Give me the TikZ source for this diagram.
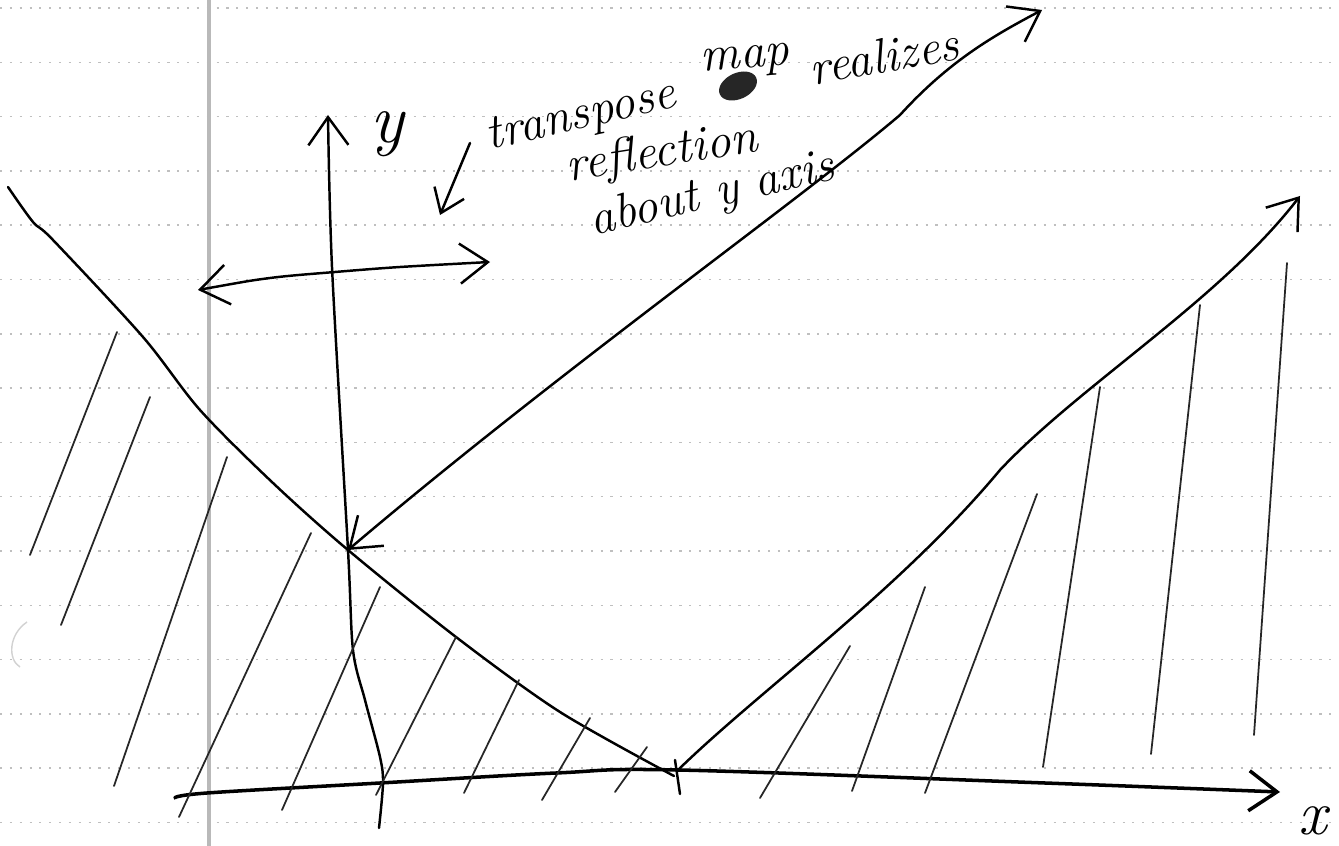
\documentclass[tikz,border=0pt]{standalone}
\usepackage{tikz}
\usetikzlibrary{arrows.meta, calc}

\begin{document}
\begin{tikzpicture}[x=0.01cm, y=-0.01cm,
  ruled/.style={gray!50, line width=0.45pt, dash pattern=on 0.6pt off 2.2pt},
  margin/.style={gray!55, line width=1pt},
  pen/.style={black, line width=0.7pt, line cap=round, line join=round},
  axisline/.style={pen, line width=1pt},
  hatch/.style={pen, line width=0.5pt, black!85},
  tip/.style={-{Straight Barb[length=2.8mm, width=4mm]}},
  bothtips/.style={{Straight Barb[length=2.8mm, width=4mm]}-{Straight Barb[length=2.8mm, width=4mm]}},
  hand/.style={font=\fontsize{14}{16}\selectfont\itshape, inner sep=0pt, anchor=base}]

\useasboundingbox (0,0) rectangle (1339,846);
\fill[white] (0,0) rectangle (1339,846);

% --- notebook paper ---
\foreach \k in {0,...,15}
  \draw[ruled] (0,{8+54.3*\k}) -- (1339,{8+54.3*\k});
\draw[margin] (209,0) -- (209,846);
\draw[gray!35, line width=0.4pt] (27,622) .. controls (8,635) and (8,660) .. (20,667);

% --- key points ---
\coordinate (cross) at (348,550);
\coordinate (vertex) at (678,770);
\coordinate (mapend) at (1042,10);
\coordinate (vend) at (1300,196);

% --- axes ---
\draw[axisline, tip] plot[smooth, tension=0.6] coordinates
  {(175,798) (207,793) (380,783) (556,773) (vertex) (1045,783) (1280,792)};
\draw[pen, tip] plot[smooth, tension=0.5] coordinates
  {(379,828) (383,783) (380,757) (365,700) (353,650) (cross) (332,267) (328,115)};
\node[font=\fontsize{20}{22}\selectfont\itshape, anchor=base, inner sep=0pt] (ylabel) at (387,143) {y};
\node[font=\fontsize{18}{20}\selectfont\itshape, anchor=base, inner sep=0pt] (xlabel) at (1313,834) {x};

% --- the two branches of the V ---
\draw[pen] plot[smooth, tension=0.5] coordinates
  {(8,187) (33,222) (53,240) (143,337) (200,410) (273,483) (cross)
   (456,637) (560,712) (674,776)};
\draw[pen, tip] (vertex) .. controls (760,690) and (900,590) .. (1000,470)
  .. controls (1080,385) and (1220,300) .. (vend);
\draw[pen] (675,760) -- (680,794);

% --- reflection arrows ---
\draw[pen, bothtips] plot[smooth, tension=0.5] coordinates
  {(198,290) (270,278) (335,272) (400,267) (490,262)};
\draw[pen, bothtips] (cross) .. controls (560,370) and (800,200) .. (900,115)
  .. controls (950,60) and (995,35) .. (mapend);
\draw[pen, -{Straight Barb[length=2.2mm, width=3.2mm]}] (470,143) -- (440,215);

% --- labels ---
\node[hand, rotate=13] (transpose) at (584,128) {transpose};
\node[hand, rotate=5] (map) at (746,68) {map};
\fill[black!85, rotate around={25:(738,86)}] (738,86) ellipse [x radius=20, y radius=13];
\node[hand, rotate=10] (realizes) at (887,72) {realizes};
\node[hand, rotate=9] (reflection) at (664,166) {reflection};
\node[hand, rotate=13] (about) at (715,207) {about y axis};

% --- hatching, left side ---
\foreach \xa/\ya/\xb/\yb in {117/332/30/555, 150/397/61/625, 227/457/114/786,
                   311/533/179/817, 380/587/282/810, 456/637/376/795,
                   519/680/464/793, 590/718/542/800, 647/747/615/792}
  \draw[hatch] (\xa,\ya) -- (\xb,\yb);

% --- hatching, right side ---
\foreach \xa/\ya/\xb/\yb in {760/798/850/646, 852/791/925/587, 925/793/1037/494,
                   1043/767/1100/387, 1151/754/1200/305, 1254/735/1287/263}
  \draw[hatch] (\xa,\ya) -- (\xb,\yb);
\end{tikzpicture}
\end{document}
